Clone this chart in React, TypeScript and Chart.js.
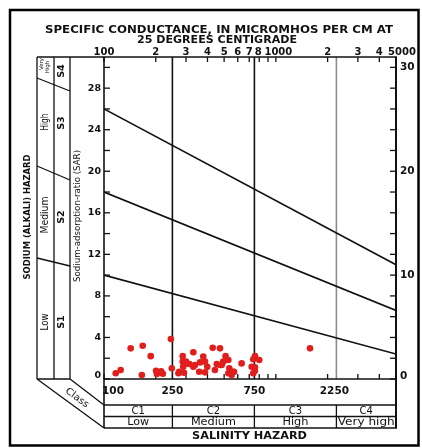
import { useEffect, useRef } from 'react';
import { Chart, registerables } from 'chart.js';
Chart.register(...registerables);

// ---- data ----
const ecValues = [117,125,143,168,187,166,201,203,215,220,245,248,271,287,287,296,289,274,292,300,331,314,331,338,362,378,387,358,387,399,429,473,442,473,453,484,494,510,529,536,529,571,565,553,632,723,739,756,739,801,756,755,1580];
const sarValues = [0.55,0.87,2.95,3.2,2.2,0.38,0.8,0.48,0.75,0.5,3.85,1.03,0.55,2.2,1.67,1.44,1.18,0.7,0.6,1.67,2.57,1.44,1.18,1.35,1.6,2.15,1.67,0.7,0.64,1.18,3.0,2.95,0.87,1.35,1.44,1.35,1.67,2.2,1.83,1.03,0.55,0.7,0.7,0.38,1.5,1.18,0.55,2.2,1.9,1.83,1.12,0.8,2.95];
const lineEC = [100, 5000];
const lineS34 = [26, 11];
const lineS23 = [18, 6.6];
const lineS12 = [10, 2.4];
const topTickValues = [100,200,300,400,500,600,700,800,900,1000,2000,3000,4000,5000];
const topTickLabels = ['100','2','3','4','5','6','7','8','','1000','2','3','4','5000'];
const leftTickLabels = [0,4,8,12,16,20,24,28];
const rightTickLabels = [0,10,20,30];
const classBounds = [250,750,2250];
const bottomLabelValues = [100,250,750,2250];
const bottomLabels = ['100','250','750','2250'];
const classEdges = [100,250,750,2250,5000];
const classNames = ['C1','C2','C3','C4'];
const classHazard = ['Low','Medium','High','Very high'];
const sodiumClasses = ['S1','S2','S3','S4'];
const sodiumHazard = ['Low','Medium','High'];

function txt(ctx: any, s: string, x: number, y: number, font: string, o: any = {}) {
  const { align = 'center', rot = 0, w = 0, color = '#111' } = o;
  ctx.save();
  ctx.translate(x, y);
  if (rot) ctx.rotate(rot);
  ctx.font = font;
  ctx.fillStyle = color;
  ctx.textAlign = align;
  ctx.textBaseline = 'middle';
  if (w) { const m = ctx.measureText(s).width; if (m > 0) ctx.scale(w / m, 1); }
  ctx.fillText(s, 0, 0);
  ctx.restore();
}
function ln(ctx: any, x1: number, y1: number, x2: number, y2: number, w = 1.3, c = '#111') {
  ctx.save();
  ctx.beginPath();
  ctx.moveTo(x1, y1); ctx.lineTo(x2, y2);
  ctx.lineWidth = w; ctx.strokeStyle = c; ctx.lineCap = 'butt';
  ctx.stroke();
  ctx.restore();
}

const FB = '"DejaVu Sans"';

const decor = {
  id: 'decor',
  beforeDatasetsDraw(chart: any) {
    const { ctx, chartArea: a, scales } = chart;
    const xs = scales.x, ys = scales.y;
    const L = a.left, R = a.right, T = a.top, B = a.bottom;
    const row1 = 405, row2 = 416.5, boxB = 428;
    const p1 = 37, p2 = 54, p3 = 70;
    // outer frame
    ctx.save(); ctx.lineWidth = 2.5; ctx.strokeStyle = '#000'; ctx.strokeRect(10, 10, 408.5, 435.5); ctx.restore();
    // titles
    txt(ctx, 'SPECIFIC CONDUCTANCE, IN MICROMHOS PER CM AT', 219, 30, `bold 10px ${FB}`, { w: 348 });
    txt(ctx, '25 DEGREES CENTIGRADE', 217, 40.5, `bold 10px ${FB}`, { w: 160 });
    // class vertical lines
    classBounds.forEach((v, i) => {
      const px = xs.getPixelForValue(v);
      ln(ctx, px, T, px, B, 1.6, i === 2 ? '#8c8c8c' : '#111');
      ln(ctx, px, row1, px, boxB, 1.3, '#111');
    });
    // plot frame
    ln(ctx, p1, T, R + 1, T, 1.5);
    ln(ctx, L, T, L, boxB, 1.6);
    ln(ctx, R, T, R, boxB, 2);
    ln(ctx, L, B, R, B, 1.5);
    ln(ctx, L, row1, R, row1, 1.3);
    ln(ctx, L, row2, R, row2, 1.3);
    ln(ctx, L, boxB, R + 1, boxB, 1.5);
    // left panel
    [p1, p2, p3].forEach((px) => ln(ctx, px, T, px, B, 1.3));
    ln(ctx, p1, B, p3, B, 1.3);
    ln(ctx, p1, 78, p3, 91, 1.3);
    ln(ctx, p1, 166, p3, 180, 1.3);
    ln(ctx, p1, 258, p3, 266, 1.3);
    ln(ctx, p1, B, L, boxB, 1.3);
    ln(ctx, p3, B, L, row1, 1.3);
    txt(ctx, 'Class', 77, 398, `9.5px ${FB}`, { rot: Math.atan2(49, 67), w: 27 });
    // top ticks and labels
    topTickValues.forEach((v, i) => {
      const px = xs.getPixelForValue(v);
      ln(ctx, px, T, px, T + 5, 1.3);
      ln(ctx, px, B, px, B - 5, 1.3);
      const lab = topTickLabels[i];
      const dx = lab === '5000' ? 6 : lab === '1000' ? 2.5 : lab === '8' ? -1 : 0;
      if (lab) txt(ctx, lab, px + dx, 52.5, `bold 10px ${FB}`);
    });
    // left and right ticks
    for (let v = 0; v <= 30; v += 2) {
      const py = ys.getPixelForValue(v);
      ln(ctx, L, py, L + 6, py, 1.3);
      ln(ctx, R - 6, py, R, py, 1.3);
    }
    leftTickLabels.forEach((v) => {
      const py = ys.getPixelForValue(v);
      txt(ctx, String(v), 101, v === 0 ? py - 3 : py, `bold 9.5px ${FB}`, { align: 'right' });
    });
    rightTickLabels.forEach((v) => {
      const py = ys.getPixelForValue(v);
      txt(ctx, String(v), 400, v === 0 ? py - 3 : py, `bold 10.5px ${FB}`, { align: 'left' });
    });
    // bottom labels
    bottomLabelValues.forEach((v, i) => {
      const px = xs.getPixelForValue(v);
      txt(ctx, bottomLabels[i], i === 0 ? px + 9 : px - (i === 3 ? 2 : 0), 391, `bold 10.5px ${FB}`);
    });
    classNames.forEach((n, i) => {
      const cx = (xs.getPixelForValue(classEdges[i]) + xs.getPixelForValue(classEdges[i + 1])) / 2;
      txt(ctx, n, cx, 411, `10px ${FB}`);
      txt(ctx, classHazard[i], cx, 422.5, `10.5px ${FB}`, { w: [22, 45, 26, 57][i] });
    });
    txt(ctx, 'SALINITY HAZARD', 249.5, 436.5, `bold 10px ${FB}`, { w: 115 });
    // left panel labels
    const R90 = -Math.PI / 2;
    txt(ctx, 'SODIUM (ALKALI) HAZARD', 28, 217, `bold 9.5px ${FB}`, { rot: R90, w: 125 });
    txt(ctx, 'Sodium-adsorption-ratio (SAR)', 78, 216, `9.5px ${FB}`, { rot: R90, w: 132 });
    const hzY = [322, 215, 122];
    sodiumHazard.forEach((s, i) => txt(ctx, s, 45, hzY[i], `10px ${FB}`, { rot: R90, w: [17, 37, 17][i] }));
    txt(ctx, 'Very', 41.5, 64, `5.5px ${FB}`, { rot: R90 });
    txt(ctx, 'High', 47.5, 67, `5.5px ${FB}`, { rot: R90 });
    const sY = [322, 217, 123, 71];
    sodiumClasses.forEach((s, i) => txt(ctx, s, 62, sY[i], `bold 9.5px ${FB}`, { rot: R90 }));
  },
};

export default function App() {
  const ref = useRef<HTMLCanvasElement>(null);
  useEffect(() => {
    if (!ref.current) return;
    const mk = (vals: number[]) => lineEC.map((x, i) => ({ x, y: vals[i] }));
    const lineDs = (vals: number[]) => ({
      type: 'line' as const,
      data: mk(vals),
      borderColor: '#111',
      borderWidth: 1.6,
      pointRadius: 0,
      showLine: true,
      fill: false,
    });
    const chart = new Chart(ref.current, {
      type: 'scatter',
      data: {
        datasets: [
          lineDs(lineS34) as any,
          lineDs(lineS23) as any,
          lineDs(lineS12) as any,
          {
            data: ecValues.map((x, i) => ({ x, y: sarValues[i] })),
            backgroundColor: '#e01f1c',
            borderWidth: 0,
            pointRadius: 3.3,
          },
        ],
      },
      options: {
        responsive: false,
        animation: false,
        events: [],
        layout: { padding: { left: 104, top: 57, right: 26, bottom: 69 } },
        plugins: { legend: { display: false }, tooltip: { enabled: false } },
        scales: {
          x: { type: 'logarithmic', min: 100, max: 5000, display: false },
          y: { type: 'linear', min: 0, max: 31, display: false },
        },
      },
      plugins: [decor],
    });
    return () => chart.destroy();
  }, []);
  return (
    <div style={{ position: 'absolute', left: 0, top: 0, width: 422, height: 448, background: '#fff' }}>
      <canvas ref={ref} width={422} height={448} />
    </div>
  );
}
